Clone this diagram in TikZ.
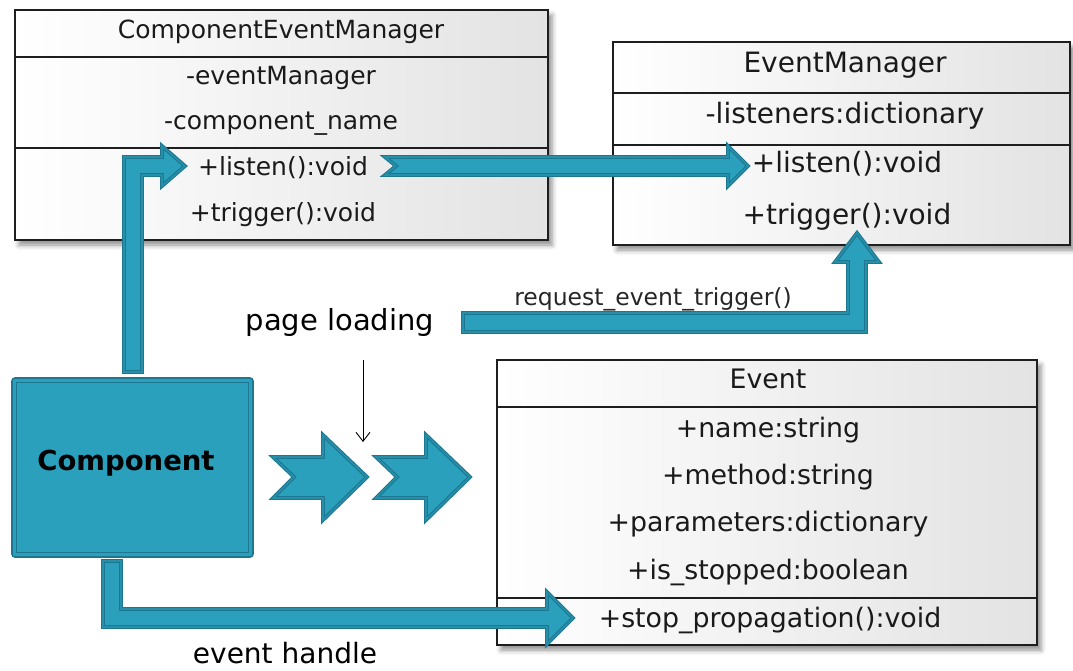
\documentclass[tikz,border=0pt]{standalone}
\usepackage{fontspec}
\setmainfont{DejaVu Sans}
\usetikzlibrary{shadows.blur,arrows.meta}
\definecolor{tealA}{HTML}{2AA0BD}
\definecolor{tealD}{HTML}{1D7790}
\definecolor{tealM}{HTML}{2690AB}
\definecolor{boxline}{HTML}{1E1E1E}
\definecolor{umltext}{HTML}{1A1A1A}
\begin{document}
\begin{tikzpicture}[x=1pt,y=-1pt,
  umlbox/.style={draw=boxline, line width=1.8pt, left color=white, right color=black!11,
    blur shadow={shadow xshift=4pt,shadow yshift=-5pt,shadow blur radius=5pt,shadow opacity=45},
    inner sep=0pt, rectangle},
  umlsep/.style={draw=boxline, line width=1.8pt},
  umlA/.style={anchor=base, text=umltext, inner sep=0pt, font=\fontsize{25}{28}\selectfont},
  umlB/.style={anchor=base, text=umltext, inner sep=0pt, font=\fontsize{28}{32}\selectfont},
  umlC/.style={anchor=base, text=umltext, inner sep=0pt, font=\fontsize{26.8}{30}\selectfont},
  fat/.style={fill=tealA, draw=tealD, line width=1.1pt, double=tealM, double distance=1.6pt, line join=miter, miter limit=10},
  label/.style={anchor=base, inner sep=0pt, text=black}
]
\useasboundingbox (0,0) rectangle (1073,670);

% ---------- ComponentEventManager ----------
\node[umlbox, minimum width=533pt, minimum height=230pt] (cem) at (281.5,125) {};
\draw[umlsep] (cem.west |- 0,57) -- (cem.east |- 0,57);
\draw[umlsep] (cem.west |- 0,148) -- (cem.east |- 0,148);
\node[umlA] (cemT) at (281,38) {ComponentEventManager};
\node[umlA] (cem1) at (281,84) {-eventManager};
\node[umlA] (cem2) at (281,129) {-component\_name};
\node[umlA] (cem3) at (283,175) {+listen():void};
\node[umlA] (cem4) at (283,221) {+trigger():void};

% ---------- EventManager ----------
\node[umlbox, minimum width=457pt, minimum height=203pt] (em) at (841.5,143.5) {};
\draw[umlsep] (em.west |- 0,93) -- (em.east |- 0,93);
\draw[umlsep] (em.west |- 0,145) -- (em.east |- 0,145);
\node[umlB] (emT) at (845,72) {EventManager};
\node[umlB] (em1) at (845,123) {-listeners:dictionary};
\node[umlB] (em2) at (847,172) {+listen():void};
\node[umlB] (em3) at (847,224) {+trigger():void};

% ---------- Event ----------
\node[umlbox, minimum width=540pt, minimum height=285pt] (ev) at (767,502.5) {};
\draw[umlsep] (ev.west |- 0,407) -- (ev.east |- 0,407);
\draw[umlsep] (ev.west |- 0,598) -- (ev.east |- 0,598);
\node[umlC] (evT) at (768,388) {Event};
\node[umlC] (ev1) at (768,437) {+name:string};
\node[umlC] (ev2) at (768,484) {+method:string};
\node[umlC] (ev3) at (768,531) {+parameters:dictionary};
\node[umlC] (ev4) at (768,579) {+is\_stopped:boolean};
\node[umlC] (ev5) at (770,627) {+stop\_propagation():void};

% ---------- Component ----------
\node[draw=tealD, fill=tealA, line width=1.6pt, rounded corners=3pt,
      minimum width=241pt, minimum height=179pt, inner sep=0pt] (comp) at (132.5,467.5) {};
\draw[tealD, line width=0.9pt] ([xshift=5pt,yshift=-5pt]comp.north west) rectangle ([xshift=-5pt,yshift=5pt]comp.south east);
\node[label, font=\bfseries\fontsize{27.5}{30}\selectfont] (compT) at (126,470) {Component};

% ---------- labels ----------
\node[label, font=\fontsize{29}{32}\selectfont] (pl) at (340,330) {page loading};
\node[label, font=\fontsize{28}{32}\selectfont] (eh) at (285,663) {event handle};
\node[label, font=\fontsize{23.5}{26}\selectfont, text=black!85] (ret) at (653,305) {request\_event\_trigger()};

% ---------- fat arrows ----------
% Component -> ComponentEventManager.listen
\draw[fat] (124,372) -- (124,157) -- (162,157) -- (162,146) -- (185,166) -- (162,186) -- (162,175) -- (142,175) -- (142,372) -- cycle;
% ComponentEventManager.listen -> EventManager.listen
\draw[fat] (385,157) -- (728,157) -- (728,146) -- (748,166) -- (728,186) -- (728,175) -- (385,175) -- (396,166) -- cycle;
% page loading -> EventManager.trigger
\draw[fat] (463,313) -- (848,313) -- (848,262) -- (835,262) -- (857,233) -- (879,262) -- (866,262) -- (866,332) -- (463,332) -- cycle;
% Component -> Event.stop_propagation
\draw[fat] (103,561) -- (121,561) -- (121,609) -- (547,609) -- (547,592) -- (573,618) -- (547,644) -- (547,627) -- (103,627) -- cycle;
% chevrons
\draw[fat] (273,457) -- (323,457) -- (323,435) -- (367,477) -- (323,520) -- (323,498) -- (273,498) -- (294,477) -- cycle;
\draw[fat] (376,457) -- (426,457) -- (426,435) -- (470,477) -- (426,520) -- (426,498) -- (376,498) -- (397,477) -- cycle;

% thin arrow
\coordinate (plA) at (363,360);
\coordinate (plB) at (363,442);
\draw[line width=0.9pt, -{Straight Barb[length=9pt,width=14pt]}] (plA) -- (plB);
\end{tikzpicture}
\end{document}
